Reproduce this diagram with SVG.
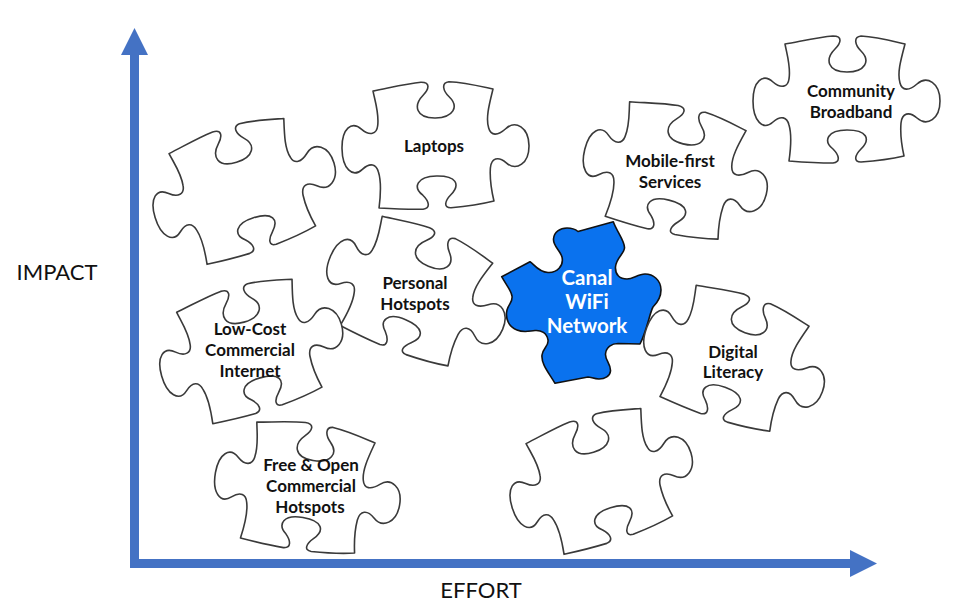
<svg xmlns="http://www.w3.org/2000/svg" xmlns:xlink="http://www.w3.org/1999/xlink" width="954" height="611" viewBox="0 0 954 611">
<style>
.pc{fill:#ffffff;stroke:#3a3a3a;stroke-width:1.6;stroke-linejoin:round}
.blue{fill:#0a72ee;stroke:#111;stroke-width:1.6;stroke-linejoin:round}
.lbl{font-family:Lato,"Liberation Sans",sans-serif;font-weight:bold;font-size:17px;fill:#111;text-anchor:middle}
.wl{font-family:Lato,"Liberation Sans",sans-serif;font-weight:bold;font-size:20.5px;fill:#ffffff;text-anchor:middle}
.ax{font-family:Lato,"Liberation Sans",sans-serif;font-size:22px;fill:#111;text-anchor:middle}
.axis{stroke:#4472c4;stroke-width:9;fill:none}
.head{fill:#4472c4}
</style>
<defs>
<path id="piece" d="M -62,-57 C -45,-60 -28,-64 -14,-65 C -4,-65 -6,-58 -12,-52 C -22,-42 -20,-29 0,-29 C 18,-29 24,-40 14,-50 C 8,-56 6,-64 14,-65 C 30,-64 45,-60 58,-57 C 54,-42 50,-28 53,-18 C 55,-10 62,-10 70,-17 C 80,-26 93,-18 93,0 C 93,18 80,26 70,17 C 62,10 55,12 54,22 C 53,34 55,46 57,55 C 44,58 28,60 14,61 C 6,61 8,54 14,48 C 24,38 20,29 0,29 C -20,29 -24,40 -14,48 C -8,54 -6,61 -14,62 C -30,62 -45,61 -58,60 C -56,46 -55,34 -58,24 C -60,16 -66,14 -74,21 C -84,30 -94,20 -94,0 C -94,-20 -84,-28 -74,-19 C -66,-12 -59,-14 -58,-22 C -56,-34 -60,-46 -62,-57 Z"/>
</defs>
<rect width="954" height="611" fill="#ffffff"/>

<g id="axes">
<line class="axis" x1="134.5" y1="568" x2="134.5" y2="52"/>
<polygon class="head" points="121,55 148,55 134.5,28"/>
<line class="axis" x1="130" y1="563.5" x2="852" y2="563.5"/>
<polygon class="head" points="850,550 850,577 877,563.5"/>
<text class="ax" x="57" y="280">IMPACT</text>
<text class="ax" x="481" y="598">EFFORT</text>
</g>

<g id="piece-blank-top">
<use xlink:href="#piece" href="#piece" class="pc" transform="translate(245,190) rotate(-17)"/>
</g>

<g id="laptops">
<use xlink:href="#piece" href="#piece" class="pc" transform="translate(436,147) rotate(-1)"/>
<text class="lbl" x="434" y="152">Laptops</text>
</g>

<g id="community-broadband">
<use xlink:href="#piece" href="#piece" class="pc" transform="translate(847,101)"/>
<text class="lbl" x="851" y="97">Community</text>
<text class="lbl" x="851" y="118">Broadband</text>
</g>

<g id="mobile-first">
<use xlink:href="#piece" href="#piece" class="pc" transform="translate(676,172) rotate(14)"/>
<text class="lbl" x="670" y="167">Mobile-first</text>
<text class="lbl" x="670" y="188">Services</text>
</g>

<g id="personal-hotspots">
<use xlink:href="#piece" href="#piece" class="pc" transform="translate(417,293) rotate(23)"/>
<text class="lbl" x="415" y="289">Personal</text>
<text class="lbl" x="415" y="310">Hotspots</text>
</g>

<g id="low-cost">
<use xlink:href="#piece" href="#piece" class="pc" transform="translate(252,350) rotate(-16)"/>
<text class="lbl" x="250" y="335">Low-Cost</text>
<text class="lbl" x="250" y="356">Commercial</text>
<text class="lbl" x="250" y="377">Internet</text>
</g>

<g id="free-open">
<use xlink:href="#piece" href="#piece" class="pc" transform="translate(308,489) rotate(10)"/>
<text class="lbl" x="311" y="471">Free &amp; Open</text>
<text class="lbl" x="311" y="492">Commercial</text>
<text class="lbl" x="310" y="513">Hotspots</text>
</g>

<g id="piece-blank-bottom">
<use xlink:href="#piece" href="#piece" class="pc" transform="translate(602,480) rotate(-17)"/>
</g>

<g id="canal-wifi">
<path class="blue" d="M 501.7,276.7 L 530,261.7 C 534,264 538,272 548,272.5 C 557,273 564,266 562,257 C 560,250 553,246 553.5,239 C 554,232 560,228 567,228 C 571,228 575,229 578,231.5 L 613.3,221.7 C 617,232 625,241 624.5,248 C 624,254 616,258 615.5,267 C 615,275 620,279 627,279 C 633,279 638,274 645,274 C 653,274 661,280 661,290 C 661,298 657,303 653,307 C 650,312 647,330 640,344 L 618,343.5 C 612,343.5 606,347 605.5,354 C 605,360 611,364 610.5,371 C 610,376 605,379 599,379 C 594,379 591,377 588,377 L 555,383.3 C 549,373 541,364 542,355 C 543,348 549,346 548,340 C 547,333 541,330 535,330.5 C 529,331 524,333 517,330 C 509,327 505,319 507,310 C 509,303 513,302 512,296 C 511,290 505,283 501.7,276.7 Z"/>
<text class="wl" x="587" y="285">Canal</text>
<text class="wl" x="587" y="309">WiFi</text>
<text class="wl" x="587" y="333">Network</text>
</g>

<g id="digital-literacy">
<use xlink:href="#piece" href="#piece" class="pc" transform="translate(735,360) rotate(20)"/>
<text class="lbl" x="733" y="358">Digital</text>
<text class="lbl" x="733" y="378">Literacy</text>
</g>
</svg>
